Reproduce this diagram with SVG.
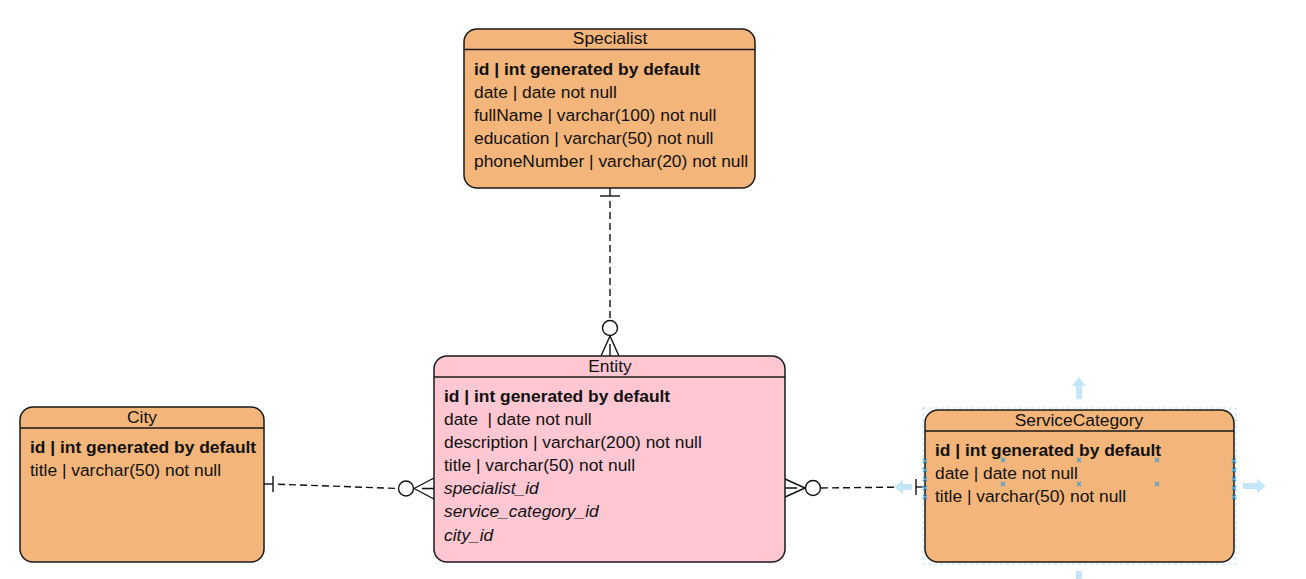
<svg xmlns="http://www.w3.org/2000/svg" width="1306" height="579" viewBox="0 0 1306 579">
<style>
  .box { stroke: #1a1a1a; stroke-width: 1.5; }
  .orange { fill: #f4b57a; }
  .pink { fill: #ffc7d2; }
  .sep { stroke: #1a1a1a; stroke-width: 1.5; }
  text { font-family: "Liberation Sans", Arial, sans-serif; font-size: 17.4px; fill: #111; }
  .title { text-anchor: middle; }
  .b { font-weight: bold; }
  .i { font-style: italic; }
  .conn { fill: none; stroke: #111; stroke-width: 1.4; }
  .dash { stroke-dasharray: 7 4; }
  .ui { fill: none; stroke: #b9dff8; }
  .uiarrow { fill: #c4e6fb; stroke: none; }
  .handle { fill: none; stroke: #3aa0dc; stroke-width: 1.1; }
</style>
<rect width="1306" height="579" fill="#ffffff"/>

<g id="connectors">
  <!-- Specialist - Entity -->
  <path class="conn" d="M610 188 V196"/>
  <path class="conn dash" d="M610 201 V320"/>
  <path class="conn" d="M600 196 H620"/>
  <circle class="conn" cx="610" cy="328" r="7.5" fill="#fff"/>
  <path class="conn" d="M610 336 L601 356 M610 336 L619 356 M610 344 V356"/>
  <!-- City - Entity -->
  <path class="conn" d="M264 484 H273"/>
  <path class="conn dash" d="M278 484.2 L398 488.5"/>
  <path class="conn" d="M273 476 V492"/>
  <circle class="conn" cx="406" cy="488.5" r="7.5" fill="#fff"/>
  <path class="conn" d="M414 488.5 L434 478 M414 488.5 L434 499 M422 488.5 H434"/>
  <!-- Entity - ServiceCategory -->
  <path class="conn" d="M785 479 L805 488 M785 497 L805 488 M785 488 H797"/>
  <circle class="conn" cx="813" cy="488" r="7.5" fill="#fff"/>
  <path class="conn dash" d="M821 488 L911 487"/>
  <path class="conn" d="M916 487 H925"/>
  <path class="conn" d="M916 479 V495"/>
</g>

<g id="specialist">
  <rect class="box orange" x="464" y="29" width="291" height="159" rx="13"/>
  <path class="sep" d="M464 49.5 H755"/>
  <text class="title" x="610" y="44">Specialist</text>
  <text class="b" x="474" y="75">id | int generated by default</text>
  <text x="474" y="98">date | date not null</text>
  <text x="474" y="121">fullName | varchar(100) not null</text>
  <text x="474" y="144">education | varchar(50) not null</text>
  <text x="474" y="167">phoneNumber | varchar(20) not null</text>
</g>

<g id="entity">
  <rect class="box pink" x="434" y="356" width="351" height="206" rx="13"/>
  <path class="sep" d="M434 377 H785"/>
  <text class="title" x="610" y="372">Entity</text>
  <text class="b" x="444" y="402">id | int generated by default</text>
  <text x="444" y="425" xml:space="preserve">date  | date not null</text>
  <text x="444" y="448">description | varchar(200) not null</text>
  <text x="444" y="471">title | varchar(50) not null</text>
  <text class="i" x="444" y="494">specialist_id</text>
  <text class="i" x="444" y="517">service_category_id</text>
  <text class="i" x="444" y="541">city_id</text>
</g>

<g id="city">
  <rect class="box orange" x="20" y="407" width="244" height="155" rx="13"/>
  <path class="sep" d="M20 428 H264"/>
  <text class="title" x="142" y="423">City</text>
  <text class="b" x="30" y="453">id | int generated by default</text>
  <text x="30" y="476">title | varchar(50) not null</text>
</g>

<g id="servicecategory">
  <rect class="box orange" x="925" y="410" width="309" height="152" rx="13"/>
  <path class="sep" d="M925 431 H1234"/>
  <text class="title" x="1079" y="426">ServiceCategory</text>
  <text class="b" x="935" y="456">id | int generated by default</text>
  <text x="935" y="479">date | date not null</text>
  <text x="935" y="502">title | varchar(50) not null</text>
</g>

<g id="selection-overlay">
  <rect class="ui" x="923" y="408" width="313" height="156" stroke-dasharray="3 3"/>
  <path class="uiarrow" d="M1079 377 L1086 386 H1082 V399 H1076 V386 H1072 Z"/>
  <path class="uiarrow" d="M1266 486 L1257 479 V483 H1243 V489 H1257 V493 Z"/>
  <path class="uiarrow" d="M894 487 L903 480 V484 H912 V490 H903 V494 Z"/>
  <rect class="uiarrow" x="1076" y="571" width="6" height="8"/>
  <path class="handle" d="M1001 458 l4 4 m0 -4 l-4 4 M1077 458 l4 4 m0 -4 l-4 4 M1155 458 l4 4 m0 -4 l-4 4 M1001 482 l4 4 m0 -4 l-4 4 M1077 482 l4 4 m0 -4 l-4 4 M1155 482 l4 4 m0 -4 l-4 4"/>
  <path class="handle" d="M923 459 l4 4 m0 -4 l-4 4 m0 5 l4 4 m0 -4 l-4 4 m0 5 l4 4 m0 -4 l-4 4 m0 5 l4 4 m0 -4 l-4 4 m0 5 l4 4 m0 -4 l-4 4"/>
  <path class="handle" d="M1232 459 l4 4 m0 -4 l-4 4 m0 5 l4 4 m0 -4 l-4 4 m0 5 l4 4 m0 -4 l-4 4 m0 5 l4 4 m0 -4 l-4 4 m0 5 l4 4 m0 -4 l-4 4"/>
</g>
</svg>
